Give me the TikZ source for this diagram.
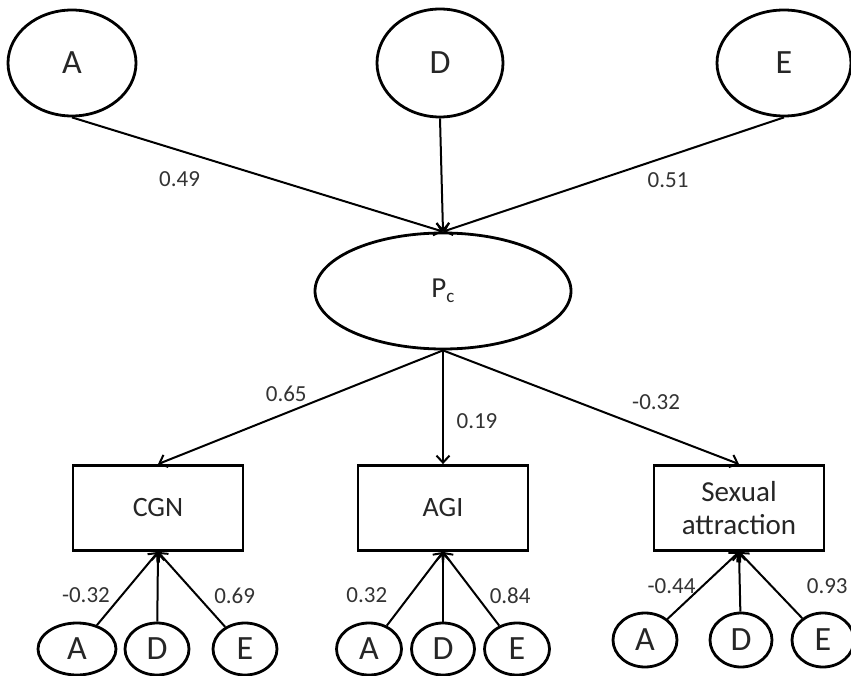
\documentclass[tikz,border=0pt]{standalone}
\usepackage{fontspec}
\setmainfont{Carlito}
\usetikzlibrary{shapes.geometric, arrows.meta, positioning}

\begin{document}
\begin{tikzpicture}[x=1pt, y=-1pt, >={Straight Barb[length=7pt,width=13pt]},
    lat/.style={ellipse, draw, line width=2.8pt, inner sep=0pt, text=black!85,
                font=\fontsize{34}{38}\selectfont},
    obs/.style={rectangle, draw, line width=2.8pt, inner sep=0pt, text=black!85,
                minimum width=170pt, minimum height=85pt, align=center,
                font=\fontsize{28}{33}\selectfont},
    path/.style={->, line width=2pt},
    coef/.style={text=black!80, font=\fontsize{23}{26}\selectfont}]

    % =================================================================
    % 1. KHUNG HÌNH
    % =================================================================
    \useasboundingbox (0,0) rectangle (851,676);

    % =================================================================
    % 2. CÁC BIẾN TIỀM ẨN PHÍA TRÊN VÀ P_c
    % =================================================================
    \node[lat, minimum width=128pt, minimum height=106pt] (topA) at (72,63)  {A};
    \node[lat, minimum width=126pt, minimum height=108pt] (topD) at (440,63) {D};
    \node[lat, minimum width=134pt, minimum height=106pt] (topE) at (784,63) {E};

    \node[lat, minimum width=256pt, minimum height=116pt, font=\fontsize{29}{32}\selectfont]
        (Pc) at (443,291) {P\raisebox{-5pt}{\fontsize{19}{20}\selectfont c}};

    % =================================================================
    % 3. CÁC BIẾN QUAN SÁT
    % =================================================================
    \node[obs] (CGN) at (158,508) {CGN};
    \node[obs] (AGI) at (443,508) {AGI};
    \node[obs, font=\fontsize{29}{33}\selectfont] (SA) at (739,508) {Sexual\\attraction};

    % Các elip nhỏ bên dưới
    \node[lat, minimum width=78pt, minimum height=52pt] (cgnA) at (77,649)  {A};
    \node[lat, minimum width=64pt, minimum height=52pt] (cgnD) at (157,649) {D};
    \node[lat, minimum width=64pt, minimum height=52pt] (cgnE) at (245,649) {E};

    \node[lat, minimum width=65pt, minimum height=52pt] (agiA) at (369,649) {A};
    \node[lat, minimum width=63pt, minimum height=52pt] (agiD) at (443,649) {D};
    \node[lat, minimum width=65pt, minimum height=52pt] (agiE) at (517,649) {E};

    \node[lat, minimum width=64pt, minimum height=54pt] (saA) at (645,640) {A};
    \node[lat, minimum width=62pt, minimum height=54pt] (saD) at (741,640) {D};
    \node[lat, minimum width=62pt, minimum height=54pt] (saE) at (823,640) {E};

    % =================================================================
    % 4. CÁC MŨI TÊN VÀ HỆ SỐ
    % =================================================================
    \draw[path] (topA.south) -- (Pc.north) node[coef, pos=0.29, yshift=-29pt] {0.49};
    \draw[path] (topD.south) -- (Pc.north);
    \draw[path] (topE.south) -- (Pc.north) node[coef, pos=0.34, yshift=-24pt] {0.51};

    \draw[path] (Pc.south) -- (CGN.north) node[coef, pos=0.55, yshift=19pt] {0.65};
    \draw[path] (Pc.south) -- (AGI.north) node[coef, pos=0.62, xshift=34pt] {0.19};
    \draw[path] (Pc.south) -- (SA.north)  node[coef, pos=0.72, yshift=30pt] {-0.32};

    \draw[path] (cgnA) -- (CGN.south) node[coef, pos=0.41, xshift=-36pt] {-0.32};
    \draw[path] (cgnD) -- (CGN.south);
    \draw[path] (cgnE) -- (CGN.south) node[coef, pos=0.41, xshift=37pt] {0.69};

    \draw[path] (agiA) -- (AGI.south) node[coef, pos=0.41, xshift=-43pt] {0.32};
    \draw[path] (agiD) -- (AGI.south);
    \draw[path] (agiE) -- (AGI.south) node[coef, pos=0.41, xshift=34pt] {0.84};

    \draw[path] (saA) -- (SA.south) node[coef, pos=0.49, xshift=-31pt] {-0.44};
    \draw[path] (saD) -- (SA.south);
    \draw[path] (saE) -- (SA.south) node[coef, pos=0.49, xshift=56pt] {0.93};

\end{tikzpicture}
\end{document}
